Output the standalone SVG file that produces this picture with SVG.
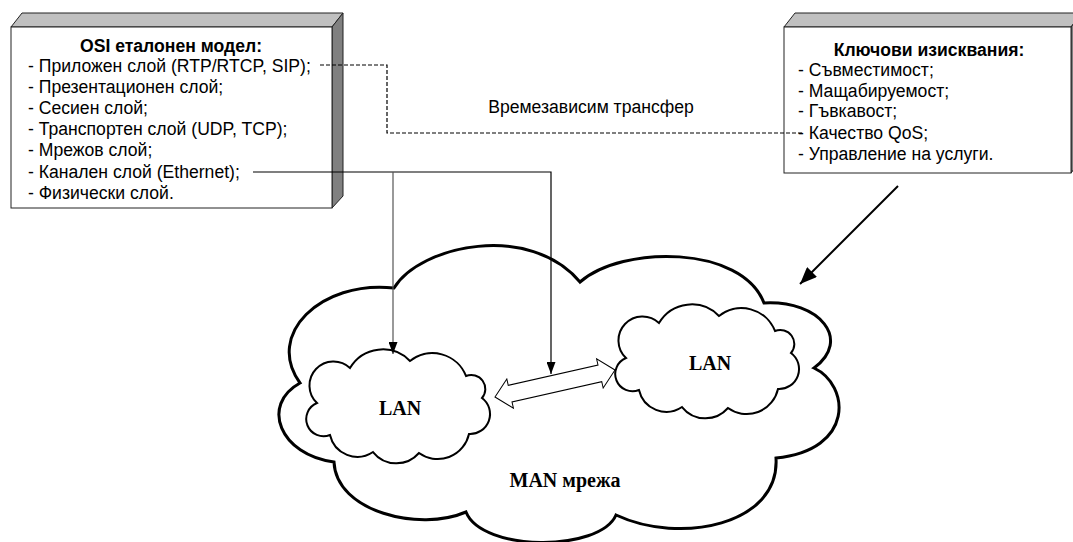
<svg xmlns="http://www.w3.org/2000/svg" width="1073" height="542" viewBox="0 0 1073 542">
<style>
.face{fill:#fff;stroke:#222;stroke-width:1}
.top{fill:#c0c0c0;stroke:#222;stroke-width:1}
.side{fill:#808080;stroke:#222;stroke-width:1}
.t{font-family:"Liberation Sans",Arial,sans-serif;font-size:17.6px;fill:#000}
.tb{font-family:"Liberation Sans",Arial,sans-serif;font-size:17.6px;font-weight:bold;fill:#000}
.s{font-family:"Liberation Serif","Times New Roman",serif;font-size:20px;font-weight:bold;fill:#000}
.ln{fill:none;stroke:#000;stroke-width:1.2}
.dash{fill:none;stroke:#000;stroke-width:1.2;stroke-dasharray:4 2}
.lan{fill:#fff;stroke:#000;stroke-width:2}
</style>
<defs>
<marker id="ah" markerUnits="userSpaceOnUse" markerWidth="12" markerHeight="9" refX="12" refY="4.5" orient="auto" viewBox="0 0 12 9">
<path d="M0,0 L12,4.5 L0,9 Z" fill="#000"/>
</marker>
<marker id="ah2" markerUnits="userSpaceOnUse" markerWidth="17" markerHeight="14" refX="17" refY="7" orient="auto" viewBox="0 0 17 14">
<path d="M0,0 L17,7 L0,14 Z" fill="#000"/>
</marker>
<path id="lancloud" d="M350,368 A38,38 0 0 1 410,361 A36,36 0 0 1 466,376 A14,14 0 0 1 482,398 A20,20 0 0 1 469,434 A32,32 0 0 1 419,453 A30,30 0 0 1 373,452 A28,28 0 0 1 330,435 A15,15 0 0 1 317,403 A24,24 0 0 1 350,368 Z"/>
</defs>

<g id="man-cloud">
<path d="M394,288 C420,245 530,222 580,282 C622,245 742,245 764,303 C820,300 852,340 814,368 C850,385 855,450 776,458 C780,525 680,545 616,515 C600,552 482,552 466,512 C420,532 336,512 334,462 C280,455 260,405 300,383 C265,335 320,280 394,288 Z" fill="#fff" stroke="#000" stroke-width="3"/>
<text class="s" x="565" y="487" text-anchor="middle">MAN мрежа</text>
</g>

<g id="lan-left">
<use href="#lancloud" class="lan"/>
<text class="s" x="400" y="415" text-anchor="middle">LAN</text>
</g>

<g id="lan-right">
<use href="#lancloud" class="lan" transform="translate(309,-45)"/>
<text class="s" x="710" y="370" text-anchor="middle">LAN</text>
</g>

<g id="osi-box">
<polygon class="top" points="11,27 22,13 343,13 332,27"/>
<polygon class="side" points="332,27 343,13 343,196 332,208"/>
<rect class="face" x="11" y="27" width="321" height="181"/>
<text class="tb" x="171" y="52" text-anchor="middle">OSI еталонен модел:</text>
<text class="t" x="28" y="72">- Приложен слой (RTP/RTCP, SIP);</text>
<text class="t" x="28" y="93">- Презентационен слой;</text>
<text class="t" x="28" y="114">- Сесиен слой;</text>
<text class="t" x="28" y="135">- Транспортен слой (UDP, TCP);</text>
<text class="t" x="28" y="156">- Мрежов слой;</text>
<text class="t" x="28" y="178">- Канален слой (Ethernet);</text>
<text class="t" x="28" y="199">- Физически слой.</text>
</g>

<g id="req-box">
<polygon class="top" points="784,27 795,13 1082,13 1071,27"/>
<polygon class="side" points="1071,27 1082,13 1082,159 1071,173"/>
<rect class="face" x="784" y="27" width="287" height="146"/>
<text class="tb" x="929" y="56" text-anchor="middle">Ключови изисквания:</text>
<text class="t" x="798" y="76">- Съвместимост;</text>
<text class="t" x="798" y="97">- Мащабируемост;</text>
<text class="t" x="798" y="117">- Гъвкавост;</text>
<text class="t" x="798" y="139">- Качество QoS;</text>
<text class="t" x="798" y="160">- Управление на услуги.</text>
</g>

<g id="connectors">
<polyline class="dash" points="320,65 387,65 387,133 803,133"/>
<text class="t" x="591" y="113" text-anchor="middle">Времезависим трансфер</text>
<polyline class="ln" points="253,172 551,172 551,374" marker-end="url(#ah)"/>
<line x1="393" y1="172" x2="393" y2="354" stroke="#555" stroke-width="1.2" marker-end="url(#ah)"/>
<line x1="898" y1="186" x2="800" y2="284" stroke="#000" stroke-width="2" marker-end="url(#ah2)"/>
<polygon transform="translate(555,383.5) rotate(-12.7)" points="-61.5,0 -46,-15 -46,-8.5 46,-8.5 46,-15 61.5,0 46,15 46,8.5 -46,8.5 -46,15" fill="#fff" stroke="#000" stroke-width="1"/>
</g>
</svg>
